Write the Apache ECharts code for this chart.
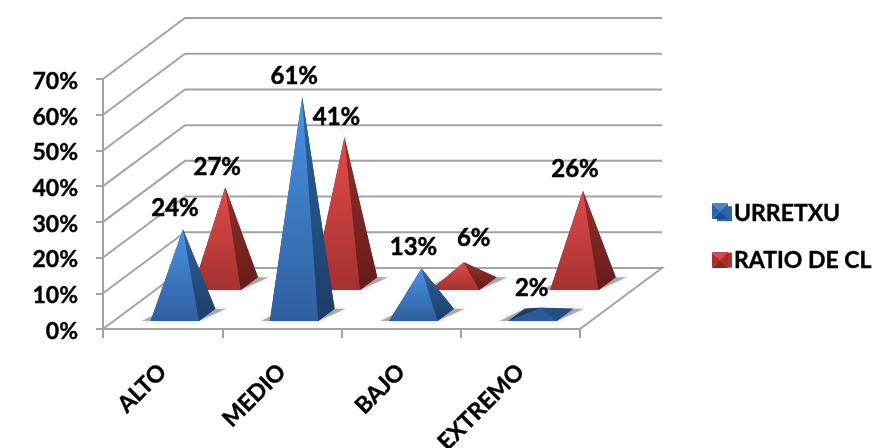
<!DOCTYPE html>
<html><head><meta charset="utf-8">
<style>html,body{margin:0;padding:0;background:#fff}#c{width:874px;height:448px}</style>
<script src="https://cdn.jsdelivr.net/npm/echarts@6/dist/echarts.min.js"></script>
</head><body><div id="c"></div>
<script>
const categories = ['ALTO','MEDIO','BAJO','EXTREMO'];
const urretxu = [0.24,0.61,0.13,0.02];
const ratioCl = [0.27,0.41,0.06,0.26];
const tickValues = [0,0.1,0.2,0.3,0.4,0.5,0.6,0.7];
const urretxuLabelShift = [[-8,-21],[-8,-21],[-8,-21],[-9,-20]];
const ratioLabelShift = [[-8,-20],[-8,-20],[10,-24],[-8,-21]];

const FONT = 'Lato, "Open Sans", sans-serif';
const DX = 82, DY = 61, AXIS = '#a3a3a3';
const grad = (a,b)=>({type:'linear',x:0,y:0,x2:0,y2:1,colorStops:[{offset:0,color:a},{offset:1,color:b}]});

function pyramidSeries(name, values, shifts, d0, d1, z, pal){
  return {
    name, type:'custom', coordinateSystem:'cartesian2d', z, clip:false,
    itemStyle:{color:pal.legend},
    data: values.map((v,i)=>[i,v]),
    encode:{x:0,y:1},
    renderItem(params, api){
      const i = api.value(0), v = api.value(1);
      const c = api.coord([i,0]);
      const w = api.size([1,0])[0]*0.405;
      const h = api.size([0,v])[1];
      const at = (xf,d)=>[c[0]+1.5+xf*w+d*DX, c[1]-d*DY];
      const FL=at(-.5,d0),FR=at(.5,d0),BR=at(.5,d1),BL=at(-.5,d1);
      const dm=(d0+d1)/2, mid=at(0,dm), A=[mid[0],mid[1]-h];
      const poly=(pts,fill,extra)=>({type:'polygon',shape:{points:pts},style:Object.assign({fill},extra||{})});
      const sh=shifts[i];
      const flat = v<0.03;
      return {type:'group',children:[
        poly([[FL[0]-9,FL[1]],[FR[0],FR[1]],[BR[0]+11,BR[1]],[BL[0],BL[1]]],'rgba(90,90,90,0.45)',{shadowBlur:5,shadowColor:'rgba(90,90,90,0.5)'}),
        poly([BL,BR,A],flat?pal.flat:pal.side1),
        poly([FL,BL,A],pal.side1),
        poly([FL,FR,BR,BL],pal.side1),
        poly([FR,BR,A],flat?pal.flat:grad(pal.side0,pal.side1)),
        poly([FL,FR,A],flat?pal.flat2:grad(pal.face0,pal.face1)),
        {type:'text',z2:50,style:{text:Math.round(v*100)+'%',x:A[0]+sh[0],y:A[1]+sh[1],align:'center',verticalAlign:'middle',
          fill:'#000',stroke:'#000',lineWidth:0.5,font:'bold 24px '+FONT}}
      ]};
    }
  };
}
const blue={face0:'#4c93e6',face1:'#2f5f9f',side0:'#2d659f',side1:'#1d3d68',legend:'#2f66ab',flat:'#234f86',flat2:'#2a5c9a'};
const red ={face0:'#e34b49',face1:'#a33230',side0:'#93302d',side1:'#661c1a',legend:'#b5302e',flat:'#7a2523',flat2:'#a33230'};

function bevel(x,y,s,top,sideL,bottom){
  const a=[x,y],b=[x+s,y],c=[x+s,y+s],d=[x,y+s],n=[x+s/2,y+s*0.55];
  const p=(pts,fill)=>({type:'polygon',z:20,shape:{points:pts},style:{fill}});
  return [p([d,c,n],bottom),p([a,d,n],sideL),p([b,c,n],sideL),p([a,b,n],top)];
}

const chart = echarts.init(document.getElementById('c'),null,{renderer:'canvas'});
chart.setOption({
  animation:false,
  backgroundColor:'#fff',
  grid:{left:103,right:294,top:79,bottom:119,containLabel:false,outerBoundsMode:'none'},
  legend:{show:true,orient:'vertical',left:712,top:197,itemWidth:15,itemHeight:15,itemGap:23,icon:'rect',
    data:['URRETXU','RATIO DE CL'],selectedMode:false,
    textStyle:{color:'#000',fontFamily:FONT,fontWeight:'bold',fontSize:23,padding:[0,0,0,-3],textBorderColor:'#000',textBorderWidth:0.4}},
  xAxis:{type:'category',data:categories,boundaryGap:true,
    axisLine:{show:true,lineStyle:{color:AXIS,width:2}},
    axisTick:{show:true,length:9,lineStyle:{color:AXIS,width:2},alignWithLabel:false},
    axisLabel:{interval:0,rotate:45,margin:39,color:'#000',fontFamily:FONT,fontWeight:'bold',fontSize:23,textBorderColor:'#000',textBorderWidth:0.4},
    splitLine:{show:false}},
  yAxis:{type:'value',min:0,max:0.7,interval:0.1,
    axisLine:{show:true,lineStyle:{color:AXIS,width:2}},
    axisTick:{show:true,length:7,lineStyle:{color:AXIS,width:2}},
    axisLabel:{margin:25,color:'#000',fontFamily:FONT,fontWeight:'bold',fontSize:23,verticalAlign:'top',lineHeight:5,textBorderColor:'#000',textBorderWidth:0.4,
      formatter:v=>Math.round(v*100)+'%'},
    splitLine:{show:false}},
  graphic:[].concat(bevel(712,203,16,'#4a86cc','#2d65a8','#1f4e85'),bevel(712,252,16,'#d24a48','#ab2f2d','#8a2523')),
  series:[
    {type:'custom',coordinateSystem:'cartesian2d',z:1,clip:false,silent:true,
      data:tickValues.map(v=>[0,v]),encode:{x:0,y:1},
      renderItem(params,api){
        const v=api.value(1), c=api.coord([0,v]), band=api.size([1,0])[0];
        const x0=c[0]-band/2, xr=x0+band*categories.length, y=c[1];
        const ls={stroke:AXIS,lineWidth:2,fill:null};
        const pts=[[x0,y],[x0+DX,y-DY],[xr+DX,y-DY]];
        if(v===0) pts.push([xr,y]);
        return {type:'polyline',shape:{points:pts},style:ls};
      }},
    pyramidSeries('URRETXU',urretxu,urretxuLabelShift,0.13,0.33,4,blue),
    pyramidSeries('RATIO DE CL',ratioCl,ratioLabelShift,0.64,0.85,3,red)
  ]
});
</script></body></html>
